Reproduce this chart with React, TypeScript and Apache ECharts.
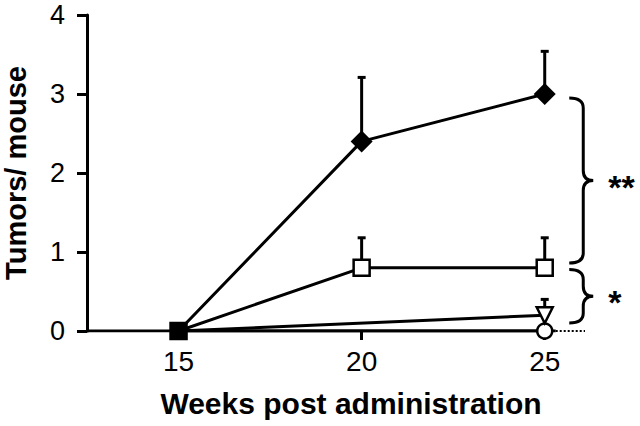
import React, { useEffect, useRef } from "react";
import * as echarts from "echarts";

const weeks = [15, 20, 25];
const xTickLabels = [15, 20, 25];
const yTickLabels = [0, 1, 2, 3, 4];

const diamondMean = [0, 2.4, 3.0];
const diamondUpper = [0, 3.21, 3.54];
const squareMean = [0, 0.8, 0.8];
const squareUpper = [0, 1.18, 1.18];
const triangleWeeks = [15, 25];
const triangleMean = [0, 0.2];
const triangleUpper = [0, 0.4];
const circleWeeks = [15, 25];
const circleMean = [0, 0];

const braceTop = [2.95, 0.78];
const braceBottom = [0.86, 0.1];
const braceLabels = ["**", "*"];

const FONT = "'Liberation Sans', Arial, sans-serif";

const Brace = echarts.graphic.extendShape({
  shape: { x: 0, y1: 0, y2: 100, s: 14, t: 24, r: 10 },
  buildPath(ctx: any, shape: any) {
    const { x, y1, y2, s, t, r } = shape;
    const ym = (y1 + y2) / 2;
    ctx.moveTo(x, y1);
    ctx.quadraticCurveTo(x + s, y1, x + s, y1 + r);
    ctx.lineTo(x + s, ym - r);
    ctx.quadraticCurveTo(x + s, ym, x + t, ym);
    ctx.quadraticCurveTo(x + s, ym, x + s, ym + r);
    ctx.lineTo(x + s, y2 - r);
    ctx.quadraticCurveTo(x + s, y2, x, y2);
  },
});
echarts.graphic.registerShape("brace", Brace);

export default function App() {
  const ref = useRef<HTMLDivElement>(null);
  useEffect(() => {
    document.body.style.margin = "0";
    if (!ref.current) return;
    const chart = echarts.init(ref.current, undefined, { renderer: "svg" });

    const errData: number[][] = [];
    weeks.forEach((w, i) => {
      if (diamondUpper[i] > diamondMean[i]) errData.push([w, diamondMean[i], diamondUpper[i]]);
      if (squareUpper[i] > squareMean[i]) errData.push([w, squareMean[i], squareUpper[i]]);
    });
    triangleWeeks.forEach((w, i) => {
      if (triangleUpper[i] > triangleMean[i]) errData.push([w, triangleMean[i], triangleUpper[i]]);
    });

    const openStyle = { color: "#fff", borderColor: "#000", borderWidth: 2.5 };
    const lineStyle = { color: "#000", width: 3 };

    chart.setOption({
      animation: false,
      grid: { left: 87, right: 55, top: 15, bottom: 95, containLabel: false, outerBoundsMode: "none" },
      xAxis: {
        type: "value",
        min: 12.5,
        max: 26.1,
        name: "Weeks post administration",
        nameLocation: "middle",
        nameGap: 57,
        nameTextStyle: { fontFamily: FONT, fontSize: 30, fontWeight: "bold", color: "#000", padding: [0, 0, 0, 30] },
        axisLine: { show: false },
        axisTick: { show: true, customValues: xTickLabels, length: 9, lineStyle: { color: "#000", width: 3 } },
        axisLabel: { customValues: xTickLabels, fontFamily: FONT, fontSize: 28, color: "#000", margin: 16 },
        splitLine: { show: false },
      },
      yAxis: {
        type: "value",
        min: 0,
        max: 4,
        interval: 1,
        name: "Tumors/ mouse",
        nameLocation: "middle",
        nameGap: 57,
        nameTextStyle: { fontFamily: FONT, fontSize: 29, fontWeight: "bold", color: "#000" },
        axisLine: { show: true, lineStyle: { color: "#000", width: 3 } },
        axisTick: { show: true, length: 10, lineStyle: { color: "#000", width: 3 } },
        axisLabel: {
          fontFamily: FONT, fontSize: 27, color: "#000", margin: 22,
          formatter: (v: number) => (yTickLabels.includes(v) ? String(v) : ""),
        },
        splitLine: { show: false },
      },
      series: [
        {
          type: "line",
          data: [[12.5, 0], [25.3, 0]],
          symbol: "none",
          lineStyle: { color: "#000", width: 3 },
          z: 1,
          silent: true,
        },
        {
          type: "line",
          data: [[25.3, 0], [26.1, 0]],
          symbol: "none",
          lineStyle: { color: "#000", width: 2, type: "dotted" },
          z: 1,
          silent: true,
        },
        {
          type: "custom",
          data: errData,
          z: 2,
          renderItem: (params: any, api: any) => {
            const base = api.coord([api.value(0), api.value(1)]);
            const top = api.coord([api.value(0), api.value(2)]);
            return {
              type: "group",
              children: [
                { type: "line", shape: { x1: base[0], y1: base[1], x2: top[0], y2: top[1] }, style: { stroke: "#000", lineWidth: 3 } },
                { type: "line", shape: { x1: top[0] - 4, y1: top[1], x2: top[0] + 4, y2: top[1] }, style: { stroke: "#000", lineWidth: 3 } },
              ],
            };
          },
        },
        {
          type: "line",
          data: circleWeeks.map((w, i) => ({ value: [w, circleMean[i]], symbol: i === 0 ? "none" : "circle" })),
          symbol: "circle",
          symbolSize: 15,
          itemStyle: openStyle,
          lineStyle,
          z: 3,
        },
        {
          type: "line",
          data: triangleWeeks.map((w, i) => ({ value: [w, triangleMean[i]], symbol: i === 0 ? "none" : "triangle" })),
          symbol: "triangle",
          symbolRotate: 180,
          symbolSize: 16,
          itemStyle: openStyle,
          lineStyle,
          z: 4,
        },
        {
          type: "line",
          data: weeks.map((w, i) => ({
            value: [w, squareMean[i]],
            itemStyle: i === 0 ? { color: "#000", borderColor: "#000", borderWidth: 2.5 } : openStyle,
          })),
          symbol: "rect",
          symbolSize: 16,
          lineStyle,
          z: 5,
        },
        {
          type: "line",
          data: weeks.map((w, i) => ({ value: [w, diamondMean[i]], symbol: i === 0 ? "none" : "diamond" })),
          symbol: "diamond",
          symbolSize: 22,
          itemStyle: { color: "#000" },
          lineStyle,
          z: 6,
        },
      ],
    });

    const braceX = 25.67;
    const graphics: any[] = [];
    braceTop.forEach((t, i) => {
      const p1 = chart.convertToPixel({ gridIndex: 0 }, [braceX, t]) as number[];
      const p2 = chart.convertToPixel({ gridIndex: 0 }, [braceX, braceBottom[i]]) as number[];
      const ym = (p1[1] + p2[1]) / 2;
      graphics.push({
        type: "brace",
        shape: { x: p1[0], y1: p1[1], y2: p2[1], s: 14, t: 24, r: 10 },
        style: { stroke: "#000", lineWidth: 3, fill: null },
      });
      graphics.push({
        type: "text",
        x: p1[0] + 39,
        y: ym + 6,
        style: { text: braceLabels[i], font: `bold 34px ${FONT}`, fill: "#000", verticalAlign: "middle", align: "left" },
      });
    });
    chart.setOption({ graphic: graphics });

    return () => chart.dispose();
  }, []);
  return <div ref={ref} style={{ width: 640, height: 426 }} />;
}
